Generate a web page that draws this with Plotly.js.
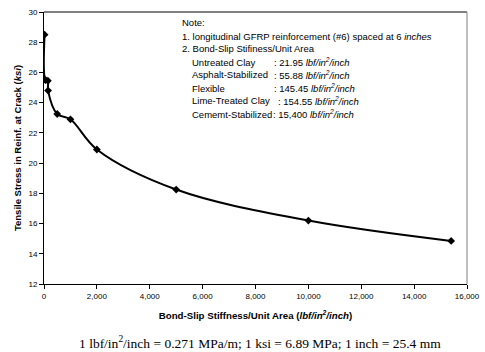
<!DOCTYPE html>
<html>
<head>
<meta charset="utf-8">
<script src="https://cdn.plot.ly/plotly-3.0.1.min.js"></script>
<style>html,body{margin:0;padding:0;background:#fff;}#chart{width:485px;height:352px;}</style>
</head>
<body>
<div id="chart"></div>
<script>
// Data
const stiffness = [21.95, 55.88, 145.45, 154.55, 500, 1000, 2000, 5000, 10000, 15400];
const tensileStress = [28.5, 25.5, 25.45, 24.8, 23.25, 22.9, 20.9, 18.25, 16.2, 14.85];
const xTickVals = [0, 2000, 4000, 6000, 8000, 10000, 12000, 14000, 16000];
const xTickText = ["0", "2,000", "4,000", "6,000", "8,000", "10,000", "12,000", "14,000", "16,000"];
const yTickVals = [12, 14, 16, 18, 20, 22, 24, 26, 28, 30];
const materials = ["Untreated Clay", "Asphalt-Stabilized", "Flexible", "Lime-Treated Clay", "Cememt-Stabilized"];
const materialStiffness = ["21.95", "55.88", "145.45", "154.55", "15,400"];
const noteLines = ["Note:", "1. longitudinal GFRP reinforcement (#6) spaced at 6 <i>inches</i>", "2. Bond-Slip Stifiness/Unit Area"];

const W = 485, H = 352;
const L = 44, R = 467, T = 12, B = 284;
const px = x => (x - L) / (R - L);
const py = y => (B - y) / (B - T);

const annotations = [];
const f = {family: 'Arial, "Liberation Sans", sans-serif', size: 9.5, color: '#000'};
noteLines.forEach((t, i) => {
  annotations.push({xref: 'paper', yref: 'paper', x: px(180), y: py(23 + 13 * i), xanchor: 'left', yanchor: 'middle',
    text: t, showarrow: false, font: f});
});
const valueX = [272, 272, 272, 276, 270.5];
materials.forEach((m, i) => {
  const yy = py(62 + 13 * i);
  annotations.push({xref: 'paper', yref: 'paper', x: px(190), y: yy, xanchor: 'left', yanchor: 'middle',
    text: m, showarrow: false, font: f});
  annotations.push({xref: 'paper', yref: 'paper', x: px(valueX[i]), y: yy, xanchor: 'left', yanchor: 'middle',
    text: ': ' + materialStiffness[i] + ' <i>lbf/in<sup>2</sup>/inch</i>', showarrow: false, font: f});
});
annotations.push({xref: 'paper', yref: 'paper', x: px(260), y: py(342), xanchor: 'center', yanchor: 'middle',
  text: '1 lbf/in<sup>2</sup>/inch = 0.271 MPa/m; 1 ksi = 6.89 MPa; 1 inch = 25.4 mm', showarrow: false,
  font: {family: '"Liberation Serif", "Times New Roman", serif', size: 13.5, color: '#000'}});

const trace = {
  x: stiffness, y: tensileStress, type: 'scatter', mode: 'lines+markers',
  line: {color: '#000', width: 2, shape: 'spline', smoothing: 1},
  marker: {symbol: 'diamond', size: 6, color: '#000'},
  hoverinfo: 'skip'
};

const layout = {
  width: W, height: H,
  margin: {l: L, r: W - R, t: T, b: H - B, pad: 0},
  paper_bgcolor: '#fff', plot_bgcolor: '#fff',
  showlegend: false,
  font: {family: 'Arial, "Liberation Sans", sans-serif', size: 8, color: '#000'},
  xaxis: {
    range: [0, 16000], tickvals: xTickVals, ticktext: xTickText,
    showgrid: false, zeroline: false, showline: true, linecolor: '#000', linewidth: 1,
    ticks: 'outside', ticklen: 4, tickcolor: '#000', tickfont: {size: 8},
    title: {text: 'Bond-Slip Stiffness/Unit Area (<i>lbf/in<sup>2</sup>/inch</i>)', font: {size: 9.7, weight: 'bold'}, standoff: 12}
  },
  yaxis: {
    range: [12, 30], tickvals: yTickVals, ticktext: yTickVals.map(String),
    showgrid: false, zeroline: false, showline: true, linecolor: '#000', linewidth: 1,
    ticks: 'outside', ticklen: 4, tickcolor: '#000', tickfont: {size: 8},
    title: {text: 'Tensile Stress in Reinf. at Crack (<i>ksi</i>)', font: {size: 9.5, weight: 'bold'}, standoff: 5}
  },
  shapes: [
    {type: 'line', xref: 'paper', yref: 'paper', x0: 0, x1: 1, y0: 1, y1: 1, line: {color: '#808080', width: 2}},
    {type: 'line', xref: 'paper', yref: 'paper', x0: 1, x1: 1, y0: 0, y1: 1, line: {color: '#808080', width: 1}}
  ],
  annotations: annotations
};

Plotly.newPlot('chart', [trace], layout, {staticPlot: true, displayModeBar: false});
</script>
</body>
</html>
